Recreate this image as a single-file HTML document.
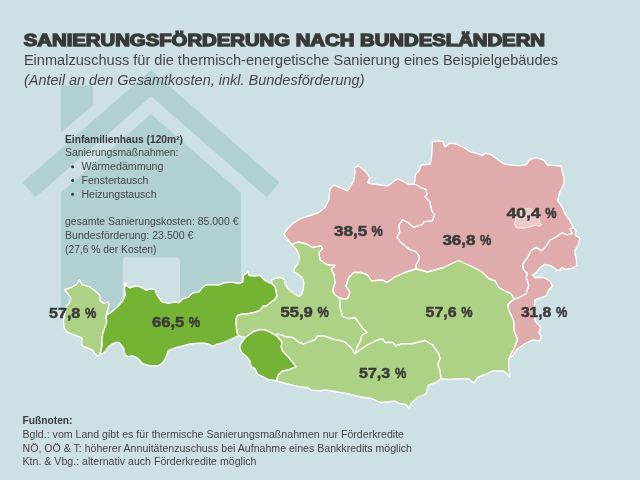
<!DOCTYPE html>
<html lang="de"><head><meta charset="utf-8"><title>Sanierungsförderung nach Bundesländern</title>
<style>html,body{margin:0;padding:0;background:#cde0e4;overflow:hidden}svg{display:block;will-change:transform}text{font-family:"Liberation Sans",sans-serif;fill:#464646}.b{font-weight:bold;fill:#3a3a3a}.i{font-style:italic}</style></head><body>
<svg width="640" height="480" viewBox="0 0 640 480">
<rect width="640" height="480" fill="#cde0e4"/>
<g fill="#b1d0d1">
<path d="M60.9 85.6H93.2V105.3L60.9 132.5Z"/>
<path d="M22.5 182.438 L151 70 L279.5 182.438 L266.5 197.312 L151 96.25 L35.5 197.312Z"/>
<path fill-rule="evenodd" d="M61 315 V192.75 L151 114 L241 192.75 V315Z M122.7 315 V261.2 a4 4 0 0 1 4 -4 H176 a4 4 0 0 1 4 4 V315Z"/>
</g>
<g stroke="#fff" stroke-width="1.35" stroke-linejoin="round">
<path fill="#e0abab" d="M514 298.75 L518 298 L526 293.75 L528.75 285 L526 277.5 L527.5 273.75 L523.75 270 L522.5 265 L523.75 262.5 L528.4 256 L530.3 251.25 L536 247.1 L541.6 250.9 L546.25 245.6 L550 240 L555.6 237.2 L562.2 232.5 L566.9 234.75 L572.5 233.4 L569.7 229.1 L573.4 227.5 L575.9 230.6 L575.3 235.3 L580 238.1 L578.1 244.7 L574.4 251.25 L576.25 258.75 L577.2 265.3 L572.5 268.1 L565 269.5 L562.2 267.2 L559.4 270 L556.6 270.5 L554.7 268.1 L550 265.3 L544.4 264.4 L539.7 268.1 L536 272.5 L532.5 275 L535 277.5 L543.75 277.5 L550 281 L552.5 286 L548.75 290 L546 296 L535 300 L533.75 310 L535 321 L541 327.5 L538.75 332.5 L541 336 L540 341 L532.5 340 L525 343.75 L517.5 348.75 L512.5 356 L508.75 358.75 L513.75 348.75 L517.5 340 L513.75 330 L513.75 321 L508.75 310 L507.5 305Z"/>
<path fill="#e0abab" d="M414 184 L414.7 180.6 L415.6 174.4 L419.4 170.3 L421.25 165 L430.25 164.1 L431.6 156.25 L432.1 148.75 L432.5 141.6 L438.1 140.9 L442.8 141.6 L444.7 146.9 L450.3 143.1 L456 144 L464.4 147.8 L470 151.6 L476.6 153.4 L482.2 155.7 L485 153.4 L490.6 154.4 L497.2 159 L503.75 163.75 L512.2 165.25 L520.6 165.6 L526.25 164.7 L530 159.5 L536 157.5 L543.75 160 L547.5 165 L561 166 L563.75 177.5 L564.3 182 L562.2 187.5 L559.4 193.1 L557.5 200.6 L562.2 207.2 L565 213.75 L569.7 220.3 L573.4 227.5 L569.7 229.1 L572.5 233.4 L566.9 234.75 L562.2 232.5 L555.6 237.2 L550 240 L546.25 245.6 L541.6 250.9 L536 247.1 L530.3 251.25 L528.4 256 L523.75 262.5 L522.5 265 L523.75 270 L527.5 273.75 L526 277.5 L528.75 285 L526 293.75 L518 298 L514 298.75 L511 293.75 L505 291 L498.75 287.5 L495 281 L488.75 278.75 L482.5 272.5 L475 268 L466 264 L458.75 260.5 L451 264 L443.75 267.5 L435 270 L427.5 272 L420 270 L416 268.75 L416 265 L418.75 259.5 L419.4 256.25 L415.6 251.6 L410 249.7 L400.6 242.2 L396.9 237.5 L399.7 231.9 L398.75 225.3 L402.5 219.7 L408.1 222.5 L413.75 227.2 L422.2 224.4 L424 221.6 L432.5 220.6 L434.4 215 L431.6 210.3 L429.7 201.9 L425 196.6 L426.9 194.4 L426 189.7 L420.3 187.25Z"/>
<path fill="#e0abab" d="M291.8 244.8 L287.5 239.5 L283.75 233.75 L287.5 228.75 L292.5 223.75 L300 218.75 L310 215.5 L318.75 212.5 L325 207.5 L328.75 200 L330 188.75 L333.75 185 L340 187.5 L347.5 191 L353.75 181 L355 172.5 L354.5 167.5 L358.75 166 L365 171 L370 177.5 L367.5 182.5 L371 183.75 L377.5 184.5 L387.5 186 L392.5 182.5 L397.5 178.75 L402.5 181 L408.75 184.5 L414 184 L420.3 187.25 L426 189.7 L426.9 194.4 L425 196.6 L429.7 201.9 L431.6 210.3 L434.4 215 L432.5 220.6 L424 221.6 L422.2 224.4 L413.75 227.2 L408.1 222.5 L402.5 219.7 L398.75 225.3 L399.7 231.9 L396.9 237.5 L400.6 242.2 L410 249.7 L415.6 251.6 L419.4 256.25 L418.75 259.5 L416 265 L416 268.75 L411 270.5 L405 272.5 L396 276.5 L386.5 282.5 L382.5 280 L371.5 281 L367.5 275 L361 272.5 L353.75 272.5 L348.75 277.5 L346 286 L350 292.5 L347.5 298.75 L343.5 299 L339.5 298 L335 295 L332.5 291 L335 282.5 L333.75 273.75 L331 268.75 L335 265.5 L327.5 265 L320 260 L318.75 252.5 L322.5 248.75 L321 246 L312.5 247.5 L306 243.75 L297.5 242Z"/>
<path fill="#aed285" d="M339.5 298 L343.5 299 L347.5 298.75 L350 292.5 L346 286 L348.75 277.5 L353.75 272.5 L361 272.5 L367.5 275 L371.5 281 L382.5 280 L386.5 282.5 L396 276.5 L405 272.5 L411 270.5 L416 268.75 L420 270 L427.5 272 L435 270 L443.75 267.5 L451 264 L458.75 260.5 L466 264 L475 268 L482.5 272.5 L488.75 278.75 L495 281 L498.75 287.5 L505 291 L511 293.75 L514 298.75 L507.5 305 L508.75 310 L513.75 321 L513.75 330 L517.5 340 L513.75 348.75 L508.75 358.75 L508.75 368.75 L510 377 L503.75 371 L492.5 371 L485 374.5 L477.5 377.5 L473.75 383 L468.75 378.75 L460 378.75 L448.75 379.5 L441 378.75 L440 371 L437.5 363.75 L440 358.75 L438.75 353.75 L432.5 345 L425 340.5 L412.5 343.75 L402.5 343.75 L396 346 L392.5 342.5 L385 342.5 L382.5 338.75 L377.5 340 L367.5 345 L360 350 L355 353.75 L357 347 L360 341.5 L362 335 L367 332.5 L363 328.75 L358.75 323 L355 317.5 L348 318.75 L342.5 316.5 L340 307.5Z"/>
<path fill="#aed285" d="M277.2 336.5 L276.8 334 L281 334.7 L285.6 336.6 L293.1 337.5 L298.75 342.2 L303.4 344 L309 341.6 L314.7 339.75 L317.5 336 L323.1 335.6 L328.75 337.5 L334.4 339.4 L340 340.3 L345 342 L351 347.5 L355 353.75 L360 350 L367.5 345 L377.5 340 L382.5 338.75 L385 342.5 L392.5 342.5 L396 346 L402.5 343.75 L412.5 343.75 L425 340.5 L432.5 345 L438.75 353.75 L440 358.75 L437.5 363.75 L440 371 L441 378.75 L436 382.5 L428.75 385 L426 393.75 L417.5 397.5 L411 403.75 L408.75 408 L406 404.5 L400 403.75 L395 401 L387.5 402 L380 402.5 L372.5 398.75 L365 397.5 L356 396 L347.5 393.75 L340 392.5 L332.5 391 L325 390 L320 391 L311 390 L308 387.75 L298.75 386.6 L289.4 384.4 L281.9 382.5 L276.25 380.6 L278.1 375 L281.9 371.25 L289.4 369.4 L296 366.6 L292.2 361.9 L287.5 356.25 L282.8 351.6 L281 346.9 L281.9 342.2Z"/>
<path fill="#aed285" d="M272.2 284 L271.25 280.3 L275 278.4 L280.6 277.5 L284.4 279.4 L285.3 285 L289 289.7 L293.75 293.4 L298.4 296.25 L301.25 295.3 L303.1 289.7 L304 283.1 L302.2 277.5 L297.5 273.75 L293.75 272.25 L294.7 268.1 L297.5 264.4 L299.4 258.75 L298.4 253.1 L295.6 248.4 L291.8 244.8 L297.5 242 L306 243.75 L312.5 247.5 L321 246 L322.5 248.75 L318.75 252.5 L320 260 L327.5 265 L335 265.5 L331 268.75 L333.75 273.75 L335 282.5 L332.5 291 L335 295 L339.5 298 L340 307.5 L342.5 316.5 L348 318.75 L355 317.5 L358.75 323 L363 328.75 L367 332.5 L362 335 L360 341.5 L357 347 L355 353.75 L351 347.5 L345 342 L340 340.3 L334.4 339.4 L328.75 337.5 L323.1 335.6 L317.5 336 L314.7 339.75 L309 341.6 L303.4 344 L298.75 342.2 L293.1 337.5 L285.6 336.6 L281 334.7 L276.8 334 L277.2 336.5 L274.4 334.7 L269.7 331.9 L265 330 L259.4 329.6 L253.75 331.5 L249 334.7 L245.3 337.5 L242 336.8 L238.75 335.6 L236.9 332.8 L236 324.4 L236 318.75 L237.5 315.4 L242.2 314 L248.75 313.5 L254.4 312.2 L260 310.3 L262.8 306 L266.6 305.6 L270.3 302.8 L274 300 L276.9 296.25 L276 291.6 L275 286.9Z"/>
<path fill="#aed285" d="M100 354.5 L97.5 356.25 L95 353.75 L92.5 350 L86 347.5 L81.5 345 L82.2 338.1 L75.6 335.3 L68.1 332.5 L64.4 328.75 L63.4 321.25 L65 313 L66.25 306.25 L69.1 303.4 L70.9 298.75 L68.1 294 L64.4 289.75 L70.9 287.5 L76.6 284.7 L79.4 279.6 L82.2 284.7 L89.1 286.6 L94.4 290.3 L99.6 295 L100 300.6 L103.75 303.4 L107.9 302.1 L108.6 303 L109 305.3 L107.3 310.9 L106.2 315.5 L106.6 322.5 L104.7 328.1 L102.8 333.75 L101.9 339.4 L102.25 345 L100.9 350.6Z"/>
<path fill="#74b334" d="M106.2 315.5 L111.25 312.2 L117.8 306.6 L122.5 301 L125.3 295.3 L124.4 288.75 L125.3 285 L130 287.8 L135.6 286 L140.3 286.9 L146 290.25 L150.6 288.75 L155.3 289.7 L156.25 293.4 L159 298.1 L161.9 301.9 L168.4 303.4 L175 301.9 L178.75 302.8 L182.5 299 L188.1 297.2 L191.9 293.4 L199.4 291.6 L202.2 287.8 L205.9 285 L211.25 284.6 L218.75 285 L224.4 282.75 L231.9 282.2 L238.4 283.5 L242.75 282.2 L243.5 275.6 L246 273.4 L248.4 272 L249.1 275.6 L254.4 276 L260 275.25 L264.7 280.3 L269.4 282.75 L272.2 284 L275 286.9 L276 291.6 L276.9 296.25 L274 300 L270.3 302.8 L266.6 305.6 L262.8 306 L260 310.3 L254.4 312.2 L248.75 313.5 L242.2 314 L237.5 315.4 L236 318.75 L236 324.4 L236.9 332.8 L238.75 335.6 L233 338.4 L225.6 341.6 L220 343.6 L216.25 344.5 L212.5 346.5 L210.6 345 L205 343.1 L197.5 343.1 L190 344 L182.5 346 L175 347.8 L168.4 350.6 L166.6 355.3 L164.7 360 L162 363.5 L157.5 366 L148.75 365.5 L142.5 363.75 L139.4 360 L137.5 358.1 L132.8 355.9 L128.1 356.6 L125.3 355.3 L123.4 347.8 L119.7 343.1 L116.9 342.2 L112.2 344 L108.4 346.9 L105.6 350.6 L102.8 353.5 L100 354.5 L100.9 350.6 L102.25 345 L101.9 339.4 L102.8 333.75 L104.7 328.1 L106.6 322.5Z"/>
<path fill="#74b334" d="M245.3 337.5 L249 334.7 L253.75 331.5 L259.4 329.6 L265 330 L269.7 331.9 L274.4 334.7 L277.2 336.5 L281.9 342.2 L281 346.9 L282.8 351.6 L287.5 356.25 L292.2 361.9 L296 366.6 L289.4 369.4 L281.9 371.25 L278.1 375 L276.25 380.6 L268.75 379.7 L263.1 376.9 L257.5 374 L254.7 368.4 L251 366.6 L250 361 L246.25 356.25 L241.6 352.5 L239.7 347.8 L240.6 344 L243.4 340.3Z"/>
<path fill="#eccaca" stroke-width="0.7" d="M514.4 224 L516.25 227.8 L522.8 228.4 L530.3 226.9 L536 225 L539.1 226.5 L541.6 225 L539.7 222.2 L538.75 217.5 L536 213.75 L532.2 210 L528.4 208.1 L524.7 209 L520 211.9 L516.25 216.6 L515.3 220.3Z"/>
</g>
<circle cx="125.1" cy="284" r="1.7" fill="#fff"/><circle cx="248.2" cy="271.8" r="1.2" fill="#fff"/>
<text x="23.8" y="45.6" font-size="15.9" class="b" textLength="521.2" lengthAdjust="spacingAndGlyphs" stroke="#3a3a3a" stroke-width="1.3" stroke-linejoin="miter">SANIERUNGSFÖRDERUNG NACH BUNDESLÄNDERN</text>
<text x="23.9" y="64.9" font-size="14.2" textLength="534.1" lengthAdjust="spacingAndGlyphs">Einmalzuschuss für die thermisch-energetische Sanierung eines Beispielgebäudes</text>
<text x="23.9" y="84.5" font-size="14.2" class="i" textLength="340.6" lengthAdjust="spacingAndGlyphs">(Anteil an den Gesamtkosten, inkl. Bundesförderung)</text>
<text x="65" y="142.5" font-size="10" class="b" textLength="118" lengthAdjust="spacingAndGlyphs">Einfamilienhaus (120m²)</text>
<text x="65" y="156.25" font-size="10" textLength="113.5" lengthAdjust="spacingAndGlyphs">Sanierungsmaßnahmen:</text>
<circle cx="72.6" cy="166.7" r="1.5" fill="#3a3a3a"/>
<text x="81.5" y="170" font-size="10" textLength="82" lengthAdjust="spacingAndGlyphs">Wärmedämmung</text>
<circle cx="72.6" cy="180.45" r="1.5" fill="#3a3a3a"/>
<text x="81.5" y="183.75" font-size="10" textLength="67" lengthAdjust="spacingAndGlyphs">Fenstertausch</text>
<circle cx="72.6" cy="194.2" r="1.5" fill="#3a3a3a"/>
<text x="81.5" y="197.5" font-size="10" textLength="75" lengthAdjust="spacingAndGlyphs">Heizungstausch</text>
<text x="65" y="225" font-size="10" textLength="173.5" lengthAdjust="spacingAndGlyphs">gesamte Sanierungskosten: 85.000 €</text>
<text x="65" y="238.75" font-size="10" textLength="128.5" lengthAdjust="spacingAndGlyphs">Bundesförderung: 23.500 €</text>
<text x="65" y="252.5" font-size="10" textLength="91.5" lengthAdjust="spacingAndGlyphs">(27,6 % der Kosten)</text>
<text x="22.5" y="424" font-size="10" class="b" textLength="50" lengthAdjust="spacingAndGlyphs">Fußnoten:</text>
<text x="22.5" y="437.75" font-size="10" textLength="381.5" lengthAdjust="spacingAndGlyphs">Bgld.: vom Land gibt es für thermische Sanierungsmaßnahmen nur Förderkredite</text>
<text x="22.5" y="451.5" font-size="10" textLength="389.5" lengthAdjust="spacingAndGlyphs">NÖ, OÖ &amp; T: höherer Annuitätenzuschuss bei Aufnahme eines Bankkredits möglich</text>
<text x="22.5" y="465.25" font-size="10" textLength="234" lengthAdjust="spacingAndGlyphs">Ktn. &amp; Vbg.: alternativ auch Förderkredite möglich</text>
<text y="318.4" font-size="14" class="b" stroke="#3a3a3a" stroke-width="0.45"><tspan x="49" textLength="31.3" lengthAdjust="spacingAndGlyphs">57,8</tspan> <tspan x="85" textLength="11.3" lengthAdjust="spacingAndGlyphs">%</tspan></text>
<text y="326.5" font-size="14" class="b" stroke="#3a3a3a" stroke-width="0.45"><tspan x="151.9" textLength="32.5" lengthAdjust="spacingAndGlyphs">66,5</tspan> <tspan x="188.8" textLength="11.3" lengthAdjust="spacingAndGlyphs">%</tspan></text>
<text y="316.5" font-size="14" class="b" stroke="#3a3a3a" stroke-width="0.45"><tspan x="280.4" textLength="32.4" lengthAdjust="spacingAndGlyphs">55,9</tspan> <tspan x="317.5" textLength="11.3" lengthAdjust="spacingAndGlyphs">%</tspan></text>
<text y="235.75" font-size="14" class="b" stroke="#3a3a3a" stroke-width="0.45"><tspan x="334" textLength="33.2" lengthAdjust="spacingAndGlyphs">38,5</tspan> <tspan x="371.5" textLength="11.3" lengthAdjust="spacingAndGlyphs">%</tspan></text>
<text y="244.5" font-size="14" class="b" stroke="#3a3a3a" stroke-width="0.45"><tspan x="442.4" textLength="33.2" lengthAdjust="spacingAndGlyphs">36,8</tspan> <tspan x="479.9" textLength="11.3" lengthAdjust="spacingAndGlyphs">%</tspan></text>
<text y="217.75" font-size="14" class="b" stroke="#3a3a3a" stroke-width="0.45"><tspan x="506.5" textLength="34.1" lengthAdjust="spacingAndGlyphs">40,4</tspan> <tspan x="545.3" textLength="11.3" lengthAdjust="spacingAndGlyphs">%</tspan></text>
<text y="316.8" font-size="14" class="b" stroke="#3a3a3a" stroke-width="0.45"><tspan x="425.6" textLength="31.1" lengthAdjust="spacingAndGlyphs">57,6</tspan> <tspan x="461.3" textLength="11.3" lengthAdjust="spacingAndGlyphs">%</tspan></text>
<text y="377.6" font-size="14" class="b" stroke="#3a3a3a" stroke-width="0.45"><tspan x="359.1" textLength="31.1" lengthAdjust="spacingAndGlyphs">57,3</tspan> <tspan x="395.1" textLength="11.3" lengthAdjust="spacingAndGlyphs">%</tspan></text>
<text y="317" font-size="14" class="b" stroke="#3a3a3a" stroke-width="0.45"><tspan x="520.9" textLength="30.4" lengthAdjust="spacingAndGlyphs">31,8</tspan> <tspan x="556" textLength="11.3" lengthAdjust="spacingAndGlyphs">%</tspan></text>
</svg></body></html>
